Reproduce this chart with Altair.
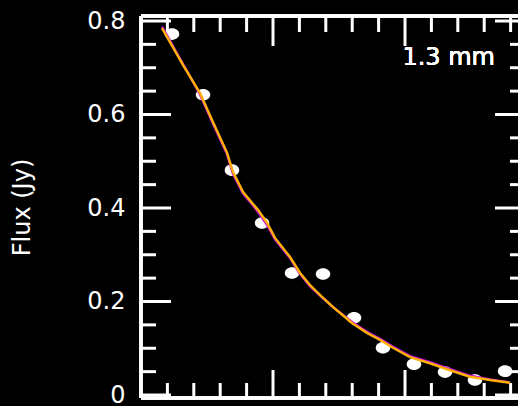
import altair as alt
import pandas as pd

# Measured data points (white ellipses)
pt_x = [0.235, 0.470, 0.689, 0.917, 1.144, 1.379, 1.614, 1.833, 2.068, 2.303, 2.530, 2.758]
pt_y = [0.772, 0.642, 0.481, 0.368, 0.261, 0.259, 0.165, 0.101, 0.066, 0.049, 0.032, 0.051]

# Model curves
fit_x = [0.159, 0.318, 0.447, 0.538, 0.652, 0.697, 0.773, 0.841, 0.886, 0.955, 1.015,
         1.129, 1.205, 1.280, 1.371, 1.455, 1.545, 1.598, 1.712, 1.811, 1.909, 2.038,
         2.189, 2.341, 2.492, 2.644, 2.795]
orange_y = [0.785, 0.706, 0.646, 0.588, 0.518, 0.477, 0.434, 0.411, 0.396, 0.368, 0.336,
            0.295, 0.261, 0.235, 0.210, 0.188, 0.167, 0.154, 0.133, 0.118, 0.101, 0.081,
            0.068, 0.053, 0.039, 0.032, 0.026]
magenta_y = [0.788, 0.708, 0.643, 0.585, 0.515, 0.473, 0.431, 0.408, 0.392, 0.364, 0.333,
             0.293, 0.259, 0.233, 0.209, 0.188, 0.168, 0.156, 0.135, 0.120, 0.103, 0.083,
             0.070, 0.055, 0.041, 0.033, 0.027]

# Tick values
y_major = [0, 0.2, 0.4, 0.6, 0.8]
y_minor = [0.05, 0.1, 0.15, 0.25, 0.3, 0.35, 0.45, 0.5, 0.55, 0.65, 0.7, 0.75]
x_major = [1, 2]
x_minor = [0.2, 0.4, 0.6, 0.8, 1.2, 1.4, 1.6, 1.8, 2.2, 2.4, 2.6, 2.8]

W, H = 377, 382
FONT = "DejaVu Sans"

xs = alt.Scale(domain=[0, 2.856], nice=False, zero=False)
ys = alt.Scale(domain=[-0.0064, 0.8107], nice=False, zero=False)

pts = pd.DataFrame({"x": pt_x, "y": pt_y})
curves = pd.concat([
    pd.DataFrame({"x": fit_x, "y": magenta_y, "model": "a", "order": 0}),
    pd.DataFrame({"x": fit_x, "y": orange_y, "model": "b", "order": 1}),
])
ymaj = pd.DataFrame({"v": y_major})
ymin = pd.DataFrame({"v": y_minor})
xmaj = pd.DataFrame({"v": x_major})
xmin = pd.DataFrame({"v": x_minor})

white = "white"
sw = 3

yaxis = alt.Axis(values=y_major, format=".1~f", ticks=False, domain=False, grid=False,
                 labelColor=white, labelFont=FONT, labelFontSize=24, labelPadding=16,
                 labelOverlap=False, labelFlush=False,
                 title="Flux (Jy)", titleColor=white, titleFont=FONT, titleFontSize=24,
                 titleFontWeight="normal", titleX=-107, titleY=191, titleAlign="center",
                 titleBaseline="bottom")


def Y(field):
    return alt.Y(field, scale=ys, axis=yaxis)


def X(field):
    return alt.X(field, scale=xs, axis=None)


def yticks(df, x1, x2):
    return alt.Chart(df).mark_rule(color=white, strokeWidth=sw).encode(
        y=Y("v:Q"), x=alt.value(x1), x2=alt.value(x2))


def xticks(df, y1, y2):
    return alt.Chart(df).mark_rule(color=white, strokeWidth=sw).encode(
        x=X("v:Q"), y=alt.value(y1), y2=alt.value(y2))


ticks = [
    yticks(ymaj, 0, 30), yticks(ymin, 0, 15),
    yticks(ymaj, W - 23, W), yticks(ymin, W - 8, W),
    xticks(xmaj, 0, 30), xticks(xmin, 0, 16),
    xticks(xmaj, H, H - 28), xticks(xmin, H, H - 15),
]

frame_left = alt.Chart(ymaj).mark_rule(color=white, strokeWidth=sw).encode(
    x=alt.value(0), y=alt.value(0), y2=alt.value(H))
frame_top = alt.Chart(ymaj).mark_rule(color=white, strokeWidth=sw).encode(
    x=alt.value(0), x2=alt.value(W), y=alt.value(0))
frame_bottom = alt.Chart(ymaj).mark_rule(color=white, strokeWidth=sw).encode(
    x=alt.value(0), x2=alt.value(W), y=alt.value(H))

lines = alt.Chart(curves).mark_line(strokeWidth=2.5).encode(
    x=X("x:Q"),
    y=Y("y:Q"),
    color=alt.Color("model:N", scale=alt.Scale(domain=["a", "b"], range=["#c400e8", "#ffb000"]),
                    legend=None),
    order="order:Q",
)

ellipse = "M -1 0 A 1 0.8 0 1 0 1 0 A 1 0.8 0 1 0 -1 0 Z"
points = alt.Chart(pts).mark_point(shape=ellipse, filled=True, color=white, opacity=1,
                                   size=210).encode(
    x=X("x:Q"),
    y=Y("y:Q"),
)

label = alt.Chart(ymaj).mark_text(text="1.3 mm", color=white, font=FONT, fontSize=24,
                                  align="right", baseline="middle").encode(
    x=alt.value(354), y=alt.value(42))

chart = alt.layer(*ticks, frame_left, frame_top, frame_bottom,
                  points, lines, label).properties(
    width=W, height=H,
    background="black",
    padding={"left": 141, "top": 16, "right": 0, "bottom": 8},
    autosize=alt.AutoSizeParams(type="none"),
).configure_view(stroke=None)

chart.save("out.html", embed_options={"renderer": "svg", "actions": False})
